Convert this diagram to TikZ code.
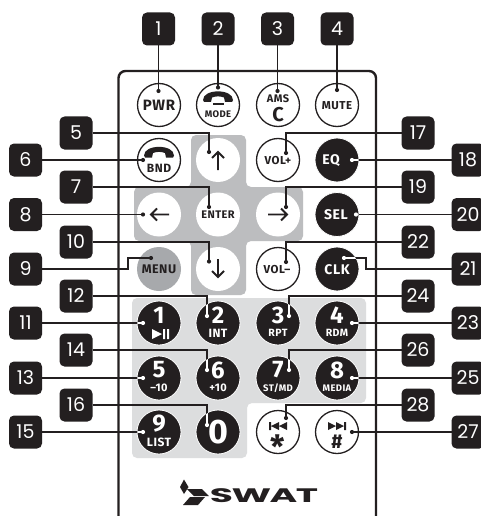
\documentclass[tikz,border=0pt]{standalone}
\usepackage{fontspec}
\setmainfont{Poppins}
\newfontfamily\labf[LetterSpace=4]{Fira Sans}
\newfontfamily\logof[LetterSpace=-4]{Poppins}
\definecolor{ink}{HTML}{231F20}
\definecolor{crossgrey}{HTML}{BCBDBF}
\definecolor{panelgrey}{HTML}{DCDDDE}
\definecolor{menugrey}{HTML}{A7A9AC}
\newcommand\fs[1]{\fontsize{#1}{#1}\selectfont}
\newcommand\lab[1]{\fs{#1}\labf\bfseries}
\tikzset{
 numbox/.style={fill=ink,draw=none,rounded corners=5pt,minimum size=33pt,inner sep=0,outer sep=0,text=white,font=\fs{19}},
 ringbtn/.style={circle,draw=ink,line width=1.3pt,fill=white,minimum size=43pt,inner sep=0,outer sep=0,text=ink},
 softbtn/.style={circle,fill=white,minimum size=44pt,inner sep=0,outer sep=0,text=ink},
 darkbtn/.style={circle,fill=ink,draw=white,line width=0.8pt,minimum size=44pt,inner sep=0,outer sep=0,text=white},
 menubtn/.style={circle,fill=menugrey,minimum size=44pt,inner sep=0,outer sep=0,text=ink},
 lead/.style={draw=ink,line width=1.2pt},
 dotk/.style={circle,fill=ink,minimum size=4.2pt,inner sep=0,outer sep=0},
 dotw/.style={circle,fill=white,minimum size=4.2pt,inner sep=0,outer sep=0},
 txt/.style={inner sep=0,outer sep=0},
 icon/.style={draw=ink,line width=1.8pt,miter limit=10},
}
\newcommand\leadw[2]{\draw[lead] #2;\begin{scope}\clip (#1) circle (21.6pt);\draw[lead,draw=white] #2;\end{scope}}
\newcommand\phone[2]{\fill[#2,shift={#1}] (-15,4.5) .. controls (-15,-7) and (15,-7) .. (15,4.5) -- (14,6.5) -- (7,6.5) -- (6,2) .. controls (2,0.5) and (-2,0.5) .. (-6,2) -- (-7,6.5) -- (-14,6.5) -- cycle;}
\begin{document}
\begin{tikzpicture}[x=1pt,y=-1pt]
\useasboundingbox (0,0) rectangle (481,516);
\clip (0,0) rectangle (481,516);
\fill[white] (0,0) rectangle (481,516);
% remote body
\draw[ink,line width=2.4pt,rounded corners=7pt] (118.5,518) -- (118.5,71) -- (376,71) -- (376,518);
% grey areas
\fill[panelgrey,rounded corners=5pt] (132,298) -- (366,298) -- (366,403) -- (247,403) -- (247,458) -- (132,458) -- cycle;
\fill[crossgrey,rounded corners=5pt] (191,135) -- (246,135) -- (246,187) -- (303,187) -- (303,241) -- (246,241) -- (246,295) -- (191,295) -- (191,241) -- (134,241) -- (134,187) -- (191,187) -- cycle;
% buttons
\node[ringbtn] (pwr) at (159,105) {};
\node[ringbtn] (mode) at (218,105) {};
\node[ringbtn] (ams) at (278,105) {};
\node[ringbtn] (mute) at (337,105) {};
\node[ringbtn] (bnd) at (159,160) {};
\node[softbtn] (up) at (218,160) {};
\node[ringbtn] (volp) at (278,160) {};
\node[darkbtn] (eq) at (337,160) {};
\node[softbtn] (left) at (159,214.5) {};
\node[softbtn] (enter) at (218,214.5) {};
\node[softbtn] (right) at (278,214.5) {};
\node[darkbtn] (sel) at (337,214.5) {};
\node[menubtn] (menu) at (159,269) {};
\node[softbtn] (down) at (218,269) {};
\node[ringbtn] (volm) at (278,269) {};
\node[darkbtn] (clk) at (337,269) {};
\node[darkbtn] (k1) at (159,323) {};
\node[darkbtn] (k2) at (218,323) {};
\node[darkbtn] (k3) at (278,323) {};
\node[darkbtn] (k4) at (337,323) {};
\node[darkbtn] (k5) at (159,378) {};
\node[darkbtn] (k6) at (218,378) {};
\node[darkbtn] (k7) at (278,378) {};
\node[darkbtn] (k8) at (337,378) {};
\node[darkbtn] (k9) at (159,432) {};
\node[darkbtn] (k0) at (218,432) {};
\node[ringbtn] (prev) at (278,432) {};
\node[ringbtn] (next) at (337,432) {};
% button texts
\node[txt,text=ink,font=\lab{15}] (tpwr) at (159,105.5) {PWR};
\node[txt,text=ink,font=\lab{9.5}] (tmode) at (218,114) {MODE};
\node[txt,text=ink,font=\lab{11}] (tams) at (278,98.5) {AMS};
\node[txt,text=ink,font=\lab{20}] (tc) at (278,115) {C};
\node[txt,text=ink,font=\lab{11.5}] (tmute) at (337,105.5) {MUTE};
\node[txt,text=ink,font=\lab{12}] (tbnd) at (159,168.5) {BND};
\node[txt,text=ink,font=\lab{11.5}] (tvolp) at (278,160.5) {VOL+};
\node[txt,text=white,font=\lab{14}] (teq) at (331,160.5) {EQ};
\node[txt,text=ink,font=\lab{11}] (tenter) at (218,215) {ENTER};
\node[txt,text=white,font=\lab{14}] (tsel) at (336,215) {SEL};
\node[txt,text=ink,font=\lab{12.5}] (tmenu) at (159,269.5) {MENU};
\node[txt,text=ink,font=\lab{11.5}] (tvolm) at (277,269.5) {VOL–};
\node[txt,text=white,font=\lab{14}] (tclk) at (337,270) {CLK};
\foreach \k/\n/\s/\t/\x/\y in {k2/2/12/INT/218/323,k3/3/10.5/RPT/278/323,k4/4/10.5/RDM/337/323,k5/5/11/–10/159/378,k6/6/11/+10/218/378,k7/7/9.5/ST\slash MD/278/378,k8/8/9.5/MEDIA/337/378,k9/9/12/LIST/159/432}{
 \node[txt,text=white,font=\lab{24}] (\k n) at (\x,\y-8) {\n};
 \node[txt,text=white,font=\lab{\s}] (\k t) at (\x,\y+10) {\t};
}
\node[txt,text=white,font=\lab{24}] (k1n) at (159,315) {1};
\node[txt,text=white,font=\lab{34}] (k0n) at (218,432) {0};
% phone handsets
\phone{(218,95.5)}{ink}
\fill[ink] (213,103.3) rectangle (224,105.3);
\phone{(159,151)}{ink}
% arrows
\draw[icon] (218,170) -- (218,152) (212,158) -- (218,152) -- (224,158);
\draw[icon] (169,214.5) -- (151,214.5) (157,208.5) -- (151,214.5) -- (157,220.5);
\draw[icon] (268,214.5) -- (287,214.5) (281,208.5) -- (287,214.5) -- (281,220.5);
\draw[icon] (218,259) -- (218,277) (212,271) -- (218,277) -- (224,271);
% media icons
\fill[white] (152,329) -- (162,334) -- (152,339) -- cycle (163,329) rectangle (165,339) (167,329) rectangle (169,339);
\fill[ink] (269,422) rectangle (271,430) (271,426) -- (279,422) -- (279,430) -- cycle (279,426) -- (287,422) -- (287,430) -- cycle;
\fill[ink] (328,422) -- (336,426) -- (328,430) -- cycle (336,422) -- (344,426) -- (336,430) -- cycle (344,422) rectangle (346,430);
\node[txt,text=ink,font=\lab{32}] (tstar) at (278,447) {*};
\node[txt,text=ink,font=\lab{20}] (thash) at (337,442) {\#};
% number boxes
\foreach \n/\x/\y in {1/158.5/29,2/218/29,3/277.5/29,4/337/29,5/76/133,6/25.5/160,7/76/187,8/25.5/214.5,10/76/242,9/25.5/269,12/76/296,11/25.5/323,14/76/350,13/25.5/378,16/76/405,15/25.5/432,17/418/133,18/468/160,19/418/187,20/468/214.5,22/418/242,21/468/269,24/418/296,23/468/323,26/418/350,25/468/378,28/418/405,27/468/432}{
 \node[numbox] (b\n) at (\x,\y) {\n};
}
% dots
\foreach \n/\x/\y in {1/158.5/91,2/218/87.5,3/277.5/91,4/337/90,5/209/152,6/143/160,7/209/207,8/143/214.5,9/151/258,10/209/261.5,17/286/153,19/286/207,22/286/262,28/286/418}{
 \node[dotk] (d\n) at (\x,\y) {};
}
\foreach \n/\x/\y in {11/143/323,12/207/316,13/143/378,14/207/370,15/143/432,16/207/425,18/352/160,20/356/214.5,21/344/258,23/352/323,24/289/316,25/352/378,26/289/370}{
 \node[dotw] (d\n) at (\x,\y) {};
}
\node[dotk] (d27) at (352,432) {};
% connectors
\foreach \n in {1,2,3,4}{\draw[lead] (b\n.south) -- (d\n.center);}
\foreach \n in {5,7,10,17,19,22,28}{\draw[lead] (b\n) -| (d\n.center);}
\foreach \n in {6,8,27}{\draw[lead] (b\n) -- (d\n.center);}
\coordinate (m9) at (128,269);
\coordinate (m21) at (366,269);
\draw[lead] (b9) -- (m9) |- (d9.center);
\leadw{clk}{(b21) -- (m21) |- (d21.center)}
\leadw{k1}{(b11) -- (d11.center)}
\leadw{k2}{(b12) -| (d12.center)}
\leadw{k5}{(b13) -- (d13.center)}
\leadw{k6}{(b14) -| (d14.center)}
\leadw{k9}{(b15) -- (d15.center)}
\leadw{k0}{(b16) -| (d16.center)}
\leadw{eq}{(b18) -- (d18.center)}
\leadw{sel}{(b20) -- (d20.center)}
\leadw{k4}{(b23) -- (d23.center)}
\leadw{k3}{(b24) -| (d24.center)}
\leadw{k8}{(b25) -- (d25.center)}
\leadw{k7}{(b26) -| (d26.center)}
% logo
\fill[ink] (184,479.5) -- (188.5,487) -- (184,494) -- (180,487) -- cycle;
\fill[ink] (187,489) -- (202,489) -- (209,496) -- (194,496) -- cycle;
\fill[ink] (183,505) -- (190,497) -- (205,497) -- (198,505) -- cycle;
\node[txt,text=ink,font=\logof\bfseries\fs{19.5},xscale=1.93] (logo) at (264,495.5) {SWAT};
\end{tikzpicture}
\end{document}
